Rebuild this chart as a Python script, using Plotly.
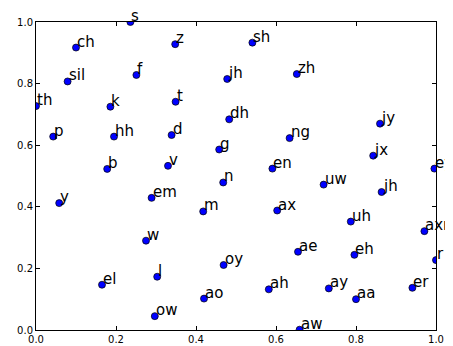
import plotly.graph_objects as go

labels = ["s", "ch", "z", "sh", "sil", "f", "jh", "zh", "th", "k", "t", "dh",
          "p", "hh", "d", "ng", "jy", "g", "jx", "b", "v", "en", "ey",
          "y", "em", "m", "n", "uw", "jh", "ax", "uh", "axr", "w", "ae", "eh",
          "r", "l", "oy", "el", "ah", "ay", "er", "ao", "aa", "ow", "aw"]
xs = [0.236, 0.100, 0.348, 0.541, 0.079, 0.251, 0.478, 0.652, 0.000, 0.186, 0.349, 0.483,
      0.043, 0.195, 0.339, 0.634, 0.860, 0.458, 0.843, 0.178, 0.330, 0.591, 0.996,
      0.058, 0.289, 0.418, 0.468, 0.719, 0.864, 0.603, 0.787, 0.971, 0.275, 0.655, 0.796,
      1.000, 0.303, 0.469, 0.165, 0.582, 0.732, 0.941, 0.420, 0.800, 0.297, 0.659]
ys = [1.000, 0.917, 0.928, 0.933, 0.807, 0.828, 0.815, 0.831, 0.727, 0.725, 0.741, 0.684,
      0.628, 0.628, 0.633, 0.623, 0.670, 0.586, 0.566, 0.523, 0.533, 0.524, 0.524,
      0.412, 0.429, 0.385, 0.479, 0.472, 0.448, 0.388, 0.352, 0.321, 0.290, 0.254, 0.244,
      0.227, 0.173, 0.211, 0.147, 0.132, 0.135, 0.137, 0.102, 0.100, 0.045, 0.001]
tick_vals = [0.0, 0.2, 0.4, 0.6, 0.8, 1.0]
tick_text = ["0.0", "0.2", "0.4", "0.6", "0.8", "1.0"]

font = "DejaVu Sans"

fig = go.Figure()
fig.add_trace(go.Scatter(
    x=xs, y=ys, mode="markers", cliponaxis=True,
    marker=dict(color="#0000ff", size=7, line=dict(color="black", width=0.7)),
    hoverinfo="skip", showlegend=False,
))

for lab, x, y in zip(labels, xs, ys):
    fig.add_annotation(x=x, y=y, text=lab, showarrow=False,
                       xanchor="left", yanchor="bottom", xshift=-1, yshift=-5,
                       font=dict(family=font, size=15, color="black"))

axis_common = dict(range=[0, 1], tickvals=tick_vals, ticktext=tick_text,
                   ticks="inside", ticklen=4, tickcolor="black", tickwidth=1,
                   showline=True, linecolor="black", linewidth=1, mirror="allticks",
                   showgrid=False, zeroline=False, automargin=False,
                   tickfont=dict(family=font, size=10, color="black"))

# page body has an 8px default margin, so the figure is sized to fit the window
fig.update_layout(
    width=445, height=338,
    margin=dict(l=28, r=17, t=14, b=16),
    paper_bgcolor="white", plot_bgcolor="white",
    xaxis=dict(**axis_common),
    yaxis=dict(**axis_common),
    showlegend=False,
)

fig.write_html("out.html")
